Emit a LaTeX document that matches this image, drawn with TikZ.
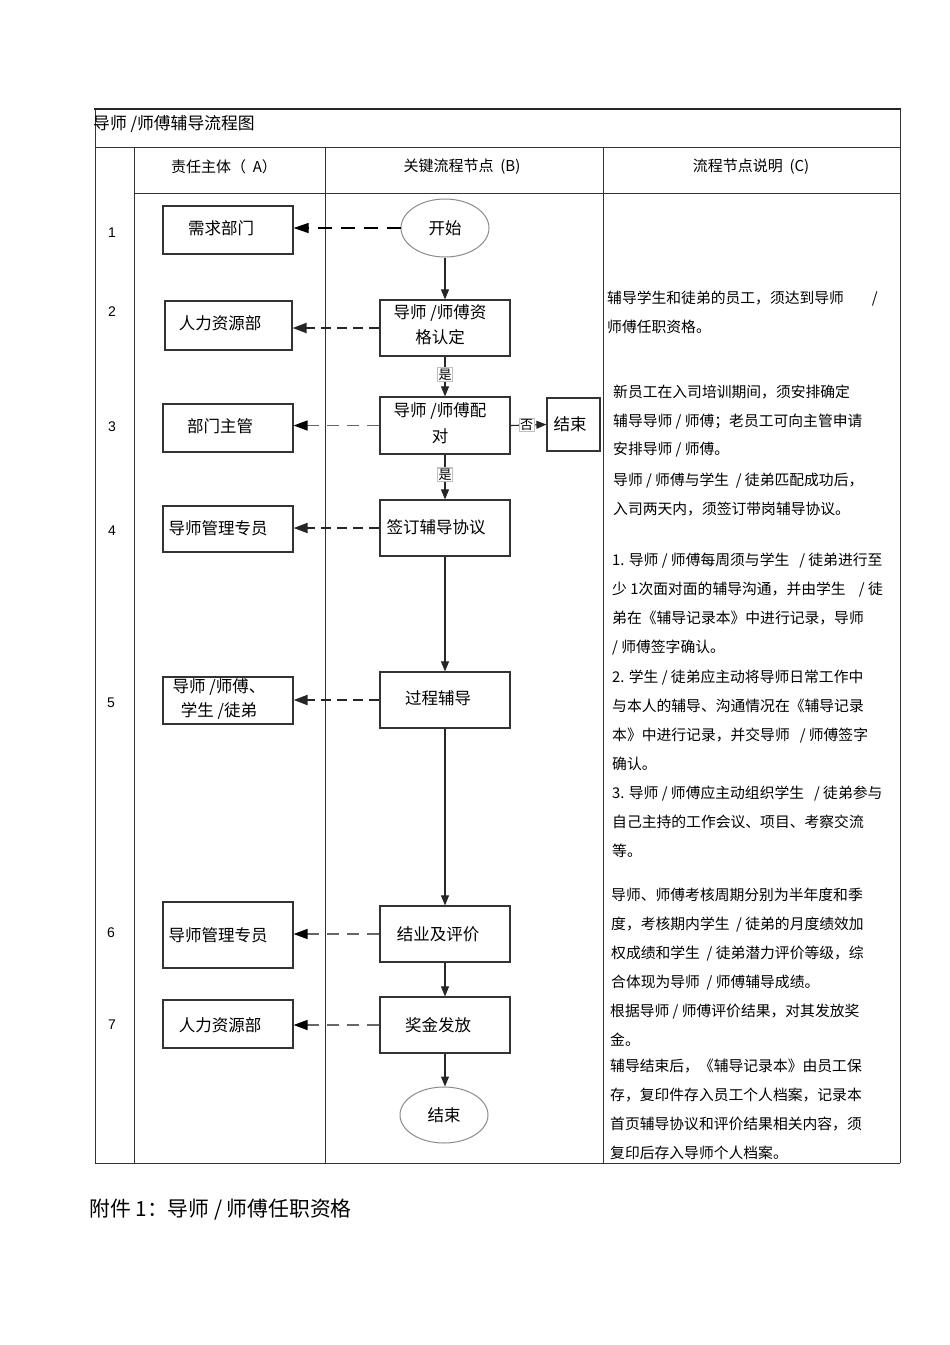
\documentclass[tikz,border=0pt]{standalone}
\usepackage{fontspec}
\setmainfont{Noto Sans CJK SC}
\newfontfamily\arialf{Liberation Sans}
\usetikzlibrary{arrows.meta,shapes.geometric}
\begin{document}
\begin{tikzpicture}[x=1pt,y=-1pt,
  tbl/.style={draw=black!80, line width=1pt},
  boxbase/.style={draw=black!80, line width=1.2pt, inner sep=0pt, rectangle},
  lbox/.style={boxbase, minimum width=130pt, minimum height=48pt},
  mbox/.style={boxbase, minimum width=130pt, minimum height=56pt},
  oval/.style={draw=black!45, line width=1pt, ellipse, inner sep=0pt, minimum width=88pt, minimum height=58pt, font=\fontsize{16.5}{20}\selectfont},
  btext/.style={font=\fontsize{16.5}{26}\selectfont, align=center, inner sep=0pt},
  rline/.style={anchor=base west, inner sep=0pt, font=\fontsize{14.8}{18}\selectfont},
  num/.style={font=\arialf\fontsize{14}{16}\selectfont, inner sep=0pt},
  hdr/.style={font=\fontsize{15}{17}\selectfont, inner sep=0pt},
  flow/.style={draw=black!85, line width=1.1pt, -{Triangle[length=10pt,width=8pt]}},
  dashK/.style={draw=black, line width=1.1pt, dash pattern=on 14pt off 9pt, -{Triangle[length=15pt,width=10pt]}},
  dashB/.style={draw=black!85, line width=2pt, dash pattern=on 10pt off 6pt, -{Triangle[length=14pt,width=10pt]}},
  dashG/.style={draw=black!60, line width=1.6pt, dash pattern=on 12pt off 8pt, -{Triangle[length=14pt,width=10pt,color=black]}},
  yn/.style={draw=black!25, fill=white, inner sep=1pt, font=\fontsize{13}{14}\selectfont}
]
\path[use as bounding box, fill=white] (0,0) rectangle (950,1345);

% table
\draw[line width=2.5pt, black!85] (94,109) -- (901,109);
\draw[tbl] (95,109) -- (95,1163);
\draw[tbl] (900,109) -- (900,1163);
\draw[tbl] (95,147) -- (900,147);
\draw[tbl] (134,147) -- (134,1163);
\draw[tbl] (325,147) -- (325,1163);
\draw[tbl] (603,147) -- (603,1163);
\draw[tbl] (134,193) -- (900,193);
\draw[tbl] (95,1163) -- (900,1163);

\node[anchor=west, inner sep=0pt, font=\fontsize{16.8}{18}\selectfont] (title) at (93,124) {导师 /师傅辅导流程图};
\node[hdr] (hA) at (224,167) {责任主体（ \ A）};
\node[hdr] (hB) at (462,167) {关键流程节点 \ (B)};
\node[hdr] (hC) at (751,167) {流程节点说明 \ (C)};

% row numbers
\node[num] (n1) at (112,233) {1};
\node[num] (n2) at (112,312) {2};
\node[num] (n3) at (112,427) {3};
\node[num] (n4) at (112,531) {4};
\node[num] (n5) at (111,703) {5};
\node[num] (n6) at (111,933) {6};
\node[num] (n7) at (112,1025) {7};

% left column
\node[lbox] (L1) at (228,230) {};
\node[btext] (tL1) at (221,228) {需求部门};
\node[lbox, minimum width=127pt, minimum height=49pt] (L2) at (228.5,325.5) {};
\node[btext] (tL2) at (220,323) {人力资源部};
\node[lbox] (L3) at (228,428) {};
\node[btext] (tL3) at (220,426) {部门主管};
\node[lbox, minimum height=46pt] (L4) at (228,529) {};
\node[btext] (tL4) at (218,528) {导师管理专员};
\node[lbox, minimum height=47pt] (L5) at (228,700.5) {};
\node[btext, font=\fontsize{16.5}{24.5}\selectfont] (tL5) at (219,699) {导师 /师傅、\\学生 /徒弟};
\node[lbox, minimum height=66pt] (L6) at (228,935) {};
\node[btext] (tL6) at (218,935) {导师管理专员};
\node[lbox] (L7) at (228,1024) {};
\node[btext] (tL7) at (220,1025) {人力资源部};

% middle column
\node[oval] (S) at (445,228) {开始};
\node[mbox] (M2) at (445,328) {};
\node[btext, font=\fontsize{16.5}{25.5}\selectfont] (tM2) at (440,325) {导师 /师傅资\\格认定};
\node[mbox, minimum height=57pt] (M3) at (445,425.5) {};
\node[btext, font=\fontsize{16.5}{25.5}\selectfont] (tM3) at (440,423) {导师 /师傅配\\对};
\node[boxbase, minimum width=53pt, minimum height=53pt] (E3) at (573.5,424.5) {};
\node[btext] (tE3) at (570,424) {结束};
\node[mbox] (M4) at (445,528) {};
\node[btext] (tM4) at (436,527) {签订辅导协议};
\node[mbox] (M5) at (445,700) {};
\node[btext] (tM5) at (438,698) {过程辅导};
\node[mbox] (M6) at (445,934) {};
\node[btext] (tM6) at (438,934) {结业及评价};
\node[mbox] (M7) at (445,1025) {};
\node[btext] (tM7) at (438,1025) {奖金发放};
\node[oval, minimum height=56pt] (EN) at (444,1115) {结束};

% flow arrows
\draw[flow] (S.south) -- (M2.north);
\draw[flow] (M2.south) -- node[yn, pos=0.45] (y1) {是} (M2.south |- M3.north);
\draw[flow] (M3.south) -- node[yn, pos=0.45] (y2) {是} (M3.south |- M4.north);
\draw[flow] (M3.east) -- node[yn, pos=0.45] (no) {否} (E3.west);
\draw[flow] (M4.south) -- (M5.north);
\draw[flow] (M5.south) -- (M6.north);
\draw[flow] (M6.south) -- (M7.north);
\draw[flow] (M7.south) -- (EN.north -| M7.south);

% dashed arrows
\draw[dashK] (S.west) -- (S.west -| L1.east);
\draw[dashB] (M2.west) -- (M2.west -| L2.east);
\draw[dashG] (M3.west) -- (M3.west -| L3.east);
\draw[dashB] (M4.west) -- (M4.west -| L4.east);
\draw[dashB] (M5.west) -- (M5.west -| L5.east);
\draw[dashG] (M6.west) -- (M6.west -| L6.east);
\draw[dashG] (M7.west) -- (M7.west -| L7.east);

% right column text
\foreach \t [count=\i] in {辅导学生和徒弟的员工，须达到导师\hspace{28pt}/, 师傅任职资格。}
  \node[rline] (a\i) at (607,303.6+29*\i-29) {\t};
\foreach \t [count=\i] in {新员工在入司培训期间，须安排确定, 辅导导师 / 师傅；老员工可向主管申请, 安排导师 / 师傅。}
  \node[rline] (b\i) at (613,397.6+28.5*\i-28.5) {\t};
\foreach \t [count=\i] in {导师 / 师傅与学生 \ / 徒弟匹配成功后，, 入司两天内，须签订带岗辅导协议。}
  \node[rline] (c\i) at (613,485.6+29*\i-29) {\t};
\foreach \t [count=\i] in {1. 导师 / 师傅每周须与学生 \ \ / 徒弟进行至, 少 1次面对面的辅导沟通，并由学生 \ \ \ / 徒, 弟在《辅导记录本》中进行记录，导师, / 师傅签字确认。, 2. 学生 / 徒弟应主动将导师日常工作中, 与本人的辅导、沟通情况在《辅导记录, 本》中进行记录，并交导师 \ \ / 师傅签字, 确认。, 3. 导师 / 师傅应主动组织学生 \ \ / 徒弟参与, 自己主持的工作会议、项目、考察交流, 等。}
  \node[rline] (d\i) at (612,565.6+29.1*\i-29.1) {\t};
\foreach \t [count=\i] in {导师、师傅考核周期分别为半年度和季, 度，考核期内学生 \ / 徒弟的月度绩效加, 权成绩和学生 \ / 徒弟潜力评价等级，综, 合体现为导师 \ / 师傅辅导成绩。}
  \node[rline] (e\i) at (611,900.6+29*\i-29) {\t};
\foreach \t [count=\i] in {根据导师 / 师傅评价结果，对其发放奖, 金。}
  \node[rline] (f\i) at (610,1016.6+29*\i-29) {\t};
\foreach \t [count=\i] in {辅导结束后，《辅导记录本》由员工保, 存，复印件存入员工个人档案，记录本, 首页辅导协议和评价结果相关内容，须, 复印后存入导师个人档案。}
  \node[rline] (g\i) at (610,1071.6+29*\i-29) {\t};

% footer
\node[anchor=west, inner sep=0pt, font=\fontsize{20.8}{22}\selectfont] (foot) at (89,1210) {附件 1：导师 / 师傅任职资格};
\end{tikzpicture}
\end{document}
